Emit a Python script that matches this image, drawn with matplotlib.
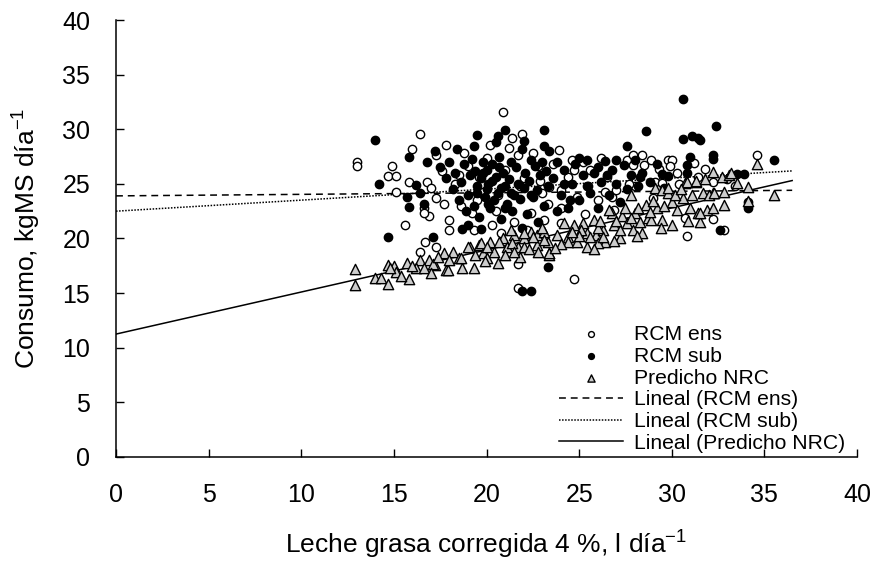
import matplotlib
matplotlib.use('Agg')
import matplotlib.pyplot as plt

# RCM ensilaje (circulos abiertos)
ens_x = [13.0, 13.0, 14.9, 14.7, 15.1, 15.1, 15.6, 15.8, 16.0, 16.4,
         16.6, 16.9, 16.7, 17.3, 16.4, 16.8, 17.0, 17.3, 17.7, 16.6,
         17.3, 17.8, 18.0, 18.0, 19.3, 18.3, 18.5, 19.0, 18.8, 19.5,
         19.2, 19.8, 20.0, 20.2, 20.3, 20.5, 20.9, 21.0, 21.2, 21.4,
         21.9, 21.7, 21.5, 21.8, 22.0, 22.2, 20.8, 21.7, 21.7, 22.4,
         22.5, 22.9, 23.0, 23.1, 23.3, 23.4, 24.0, 24.0, 24.0, 24.7,
         24.7, 24.9, 25.2, 25.6, 26.0, 26.8, 27.6, 27.9, 28.4, 28.9,
         27.9, 28.5, 29.0, 29.1, 29.5, 29.8, 30.0, 29.9, 30.7, 30.8,
         31.4, 31.2, 32.2, 32.2, 32.8, 34.6, 26.5, 27.0, 25.5, 23.6,
         19.6, 20.6, 18.6, 22.8, 26.2, 28.0, 33.0, 30.4, 17.6, 24.4,
         25.3, 26.9, 27.7, 29.3, 30.3, 31.8, 33.4, 26.4, 24.6, 23.9]
ens_y = [27.0, 26.6, 26.6, 25.7, 25.7, 24.3, 21.2, 25.2, 28.2, 29.6,
         22.8, 22.1, 19.7, 19.2, 18.8, 25.2, 24.6, 23.7, 23.2, 22.3,
         27.6, 28.6, 21.7, 20.8, 20.8, 25.0, 25.8, 26.6, 27.8, 23.5,
         22.3, 24.3, 27.4, 28.6, 21.2, 22.5, 31.6, 26.3, 28.3, 29.2,
         29.6, 27.6, 21.5, 24.8, 25.5, 20.8, 20.5, 17.7, 15.5, 22.3,
         27.8, 25.3, 24.2, 21.7, 23.2, 24.7, 24.4, 22.8, 21.4, 16.3,
         26.3, 23.8, 27.0, 26.3, 23.5, 23.8, 27.2, 27.6, 27.6, 27.2,
         26.7, 26.7, 23.7, 25.2, 25.1, 27.2, 27.2, 26.6, 21.9, 20.2,
         25.6, 26.9, 25.2, 21.8, 20.8, 27.6, 25.6, 24.4, 24.8, 26.8,
         25.6, 24.0, 23.0, 26.6, 27.4, 24.8, 25.4, 25.0, 26.2, 25.6,
         22.2, 22.6, 25.0, 26.4, 26.0, 26.4, 24.8, 24.3, 27.2, 28.1]

# RCM subproducto (circulos llenos)
sub_x = [14.0, 14.2, 14.7, 15.8, 15.7, 15.8, 16.2, 16.4, 16.6, 17.1,
         19.5, 20.6, 21.0, 23.1, 23.1, 23.3, 21.9, 22.4, 18.7, 19.7,
         28.6, 30.6, 32.4, 30.6, 31.1, 31.4, 27.6, 32.2, 32.2, 31.0,
         30.8, 30.8, 29.5, 32.6, 31.5, 35.5, 33.5, 33.9, 34.1, 34.1,
         17.5, 17.8, 18.0, 18.2, 18.3, 18.5, 18.6, 18.8, 18.9, 19.0,
         19.1, 19.2, 19.3, 19.4, 19.5, 19.6, 19.7, 19.8, 19.9, 20.0,
         20.0, 20.1, 20.2, 20.3, 20.4, 20.5, 20.6, 20.7, 20.8, 20.9,
         21.0, 21.1, 21.2, 21.3, 21.4, 21.5, 21.6, 21.7, 21.8, 21.9,
         22.0, 22.1, 22.2, 22.3, 22.4, 22.5, 22.6, 22.7, 22.8, 22.9,
         23.0, 23.1, 23.2, 23.3, 23.4, 18.4, 19.0, 21.9, 20.5, 19.3,
         22.0, 19.8, 20.3, 20.8, 21.3, 20.1, 21.0, 19.5, 22.4, 20.7,
         23.6, 23.8, 24.0, 24.2, 24.4, 24.6, 24.8, 25.0, 25.2, 25.4,
         25.6, 25.8, 26.0, 26.2, 26.4, 26.6, 26.8, 27.0, 27.2, 27.4,
         27.6, 27.8, 28.0, 28.2, 28.4, 28.8, 29.2, 29.6, 25.0, 26.0,
         24.5, 23.8, 16.8, 17.2, 24.2, 25.4, 26.5, 27.0, 28.3, 29.8]
sub_y = [29.0, 25.0, 20.1, 27.5, 23.8, 22.9, 24.9, 24.2, 23.2, 20.1,
         29.5, 29.4, 29.9, 29.9, 28.5, 17.4, 15.2, 15.2, 20.9, 20.9,
         29.8, 32.8, 30.3, 29.1, 29.4, 29.2, 28.5, 27.6, 27.3, 27.5,
         26.7, 26.0, 25.9, 20.8, 29.0, 27.2, 25.9, 25.9, 23.3, 22.8,
         26.5, 25.5, 27.0, 24.5, 26.0, 23.5, 25.2, 26.8, 22.5, 24.0,
         25.8, 27.3, 23.0, 26.2, 24.8, 22.0, 25.5, 27.0, 23.8, 26.3,
         24.5, 25.0, 22.8, 26.8, 23.5, 25.6, 24.2, 27.5, 21.8, 26.0,
         24.8, 23.2, 25.4, 27.0, 22.5, 24.0, 26.5, 25.0, 23.6, 28.2,
         24.6, 26.0, 22.2, 25.3, 27.2, 23.8, 26.6, 24.4, 21.5, 25.8,
         27.0, 23.0, 26.2, 24.8, 28.0, 28.2, 21.2, 21.0, 28.8, 28.5,
         28.9, 26.0, 25.3, 24.6, 24.2, 23.2, 22.8, 24.2, 24.0, 26.5,
         25.5, 27.0, 24.0, 26.3, 22.8, 25.0, 26.8, 23.5, 25.8, 27.2,
         24.2, 26.0, 22.8, 25.2, 27.1, 24.0, 26.3, 25.0, 23.3, 26.7,
         24.5, 25.8, 27.2, 24.8, 26.0, 25.2, 26.8, 24.6, 27.4, 26.5,
         23.5, 22.5, 27.0, 28.0, 25.0, 24.8, 25.8, 27.2, 25.6, 25.7]

# Predicho NRC (triangulos)
nrc_x = [12.9, 12.9, 14.0, 14.3, 14.7, 14.7, 15.0, 15.1, 15.8, 15.7,
         16.4, 16.2, 16.9, 17.2, 17.7, 17.8, 18.2, 18.5, 18.7, 19.1,
         19.6, 19.8, 14.8, 16.6, 17.1, 17.9, 18.6, 19.0, 19.3, 19.7,
         20.2, 20.4, 20.6, 20.9, 21.1, 21.5, 21.7, 21.8, 22.0, 22.4,
         22.7, 22.7, 23.1, 23.3, 23.4, 23.4, 23.8, 24.4, 24.4, 24.7,
         24.9, 25.2, 25.4, 25.4, 25.8, 25.9, 26.3, 26.4, 26.8, 26.9,
         27.2, 27.3, 27.6, 27.8, 27.9, 28.0, 28.3, 28.4, 28.6, 28.7,
         28.9, 29.1, 29.2, 29.5, 29.5, 29.8, 30.0, 30.0, 30.3, 30.6,
         30.7, 31.0, 31.1, 31.3, 31.4, 31.5, 31.7, 31.9, 32.2, 32.2,
         32.2, 32.7, 33.1, 33.5, 34.1, 32.0, 32.3, 32.8, 32.8, 31.5,
         34.6, 35.5, 34.1, 29.8, 30.8, 31.3, 33.2, 20.0, 20.7, 21.4,
         22.0, 22.5, 23.1, 23.4, 25.1, 25.6, 26.0, 26.3, 27.2, 21.0,
         20.0, 22.3, 24.0, 23.0, 24.2, 26.0, 26.6, 27.5, 28.2, 29.0,
         30.2, 27.0, 25.0, 19.4, 18.0, 16.0, 17.4, 21.3, 22.0, 21.5,
         22.8, 24.6, 25.8, 26.9, 27.8, 28.8, 29.6, 30.5, 31.8, 19.9,
         17.0, 15.4, 23.7, 26.1, 28.1, 29.4, 30.9]
nrc_y = [17.2, 15.7, 16.4, 16.4, 15.8, 17.6, 17.5, 16.9, 16.3, 17.8,
         18.0, 17.3, 18.0, 17.6, 18.7, 17.1, 18.8, 18.2, 17.3, 19.2,
         19.4, 18.7, 17.3, 17.3, 17.7, 17.1, 18.2, 19.2, 17.3, 19.6,
         19.7, 18.8, 17.8, 20.0, 19.2, 20.3, 19.2, 18.3, 20.0, 20.6,
         20.3, 19.4, 20.6, 19.7, 18.7, 18.5, 20.3, 20.1, 19.7, 21.2,
         19.7, 21.4, 20.5, 19.2, 21.7, 20.3, 20.8, 19.7, 22.3, 21.2,
         20.0, 22.1, 21.4, 24.0, 20.8, 22.3, 21.5, 20.5, 23.1, 21.9,
         21.7, 24.6, 22.8, 24.4, 21.7, 24.2, 23.3, 21.2, 22.6, 23.7,
         25.1, 22.8, 24.0, 25.2, 22.3, 21.5, 24.2, 22.6, 26.1, 24.2,
         22.8, 25.6, 25.8, 25.1, 24.7, 24.0, 24.2, 24.3, 23.1, 22.3,
         26.8, 24.0, 23.4, 24.6, 25.2, 25.3, 26.0, 19.2, 19.7, 19.6,
         19.2, 20.1, 19.9, 18.7, 20.8, 20.1, 19.6, 20.1, 20.8, 18.5,
         18.2, 19.0, 19.5, 21.0, 21.4, 21.0, 22.6, 22.8, 22.8, 23.4,
         24.0, 21.6, 20.2, 18.5, 18.0, 17.5, 18.3, 20.8, 20.5, 18.8,
         18.8, 20.6, 19.0, 19.8, 21.9, 22.4, 23.0, 24.5, 25.4, 17.9,
         16.8, 16.6, 19.1, 21.6, 20.2, 21.0, 21.6]

# Lineas de tendencia: intercepto y pendiente
trend_labels = ['Lineal (RCM ens)', 'Lineal (RCM sub)', 'Lineal (Predicho NRC)']
trend_intercept = [23.9, 22.5, 11.25]
trend_slope = [0.014, 0.101, 0.385]
trend_x = [0, 36.5]

plt.rcParams['font.family'] = ['Liberation Sans', 'DejaVu Sans']
plt.rcParams['mathtext.fontset'] = 'custom'
plt.rcParams['mathtext.rm'] = 'Liberation Sans'
plt.rcParams['mathtext.it'] = 'Liberation Sans:italic'

fig = plt.figure(figsize=(8.77, 5.65), dpi=100)
ax = fig.add_axes([0.1323, 0.1912, 0.8449, 0.7734])

# Tendencias detras de los puntos
styles = [(0, (4.5, 3.2)), (0, (1, 1)), '-']
line_handles = []
for lab, b, m, ls in zip(trend_labels, trend_intercept, trend_slope, styles):
    ty = [b + m * x for x in trend_x]
    ln, = ax.plot(trend_x, ty, color='black', linestyle=ls, linewidth=1.1,
                  label=lab, zorder=1)
    line_handles.append(ln)

h_ens = ax.scatter(ens_x, ens_y, s=36, facecolor='white', edgecolor='black',
                   linewidth=1.0, label='RCM ens', zorder=2)
h_sub = ax.scatter(sub_x, sub_y, s=36, facecolor='black', edgecolor='black',
                   linewidth=1.0, label='RCM sub', zorder=3)
h_nrc = ax.scatter(nrc_x, nrc_y, s=55, marker='^', facecolor='#cccccc',
                   edgecolor='black', linewidth=1.0, label='Predicho NRC', zorder=4)

ax.set_xlim(0, 40)
ax.set_ylim(0, 40)
ax.set_xticks(range(0, 41, 5))
ax.set_yticks(range(0, 41, 5))
ax.tick_params(direction='in', length=5.5, width=1, pad=18.5, labelsize=18)
for side in ['top', 'right']:
    ax.spines[side].set_visible(False)
for side in ['left', 'bottom']:
    ax.spines[side].set_linewidth(1.1)

ax.set_xlabel('Leche grasa corregida 4 %, l día$^{-1}$', fontsize=19, labelpad=16)
ax.set_ylabel('Consumo, kgMS día$^{-1}$', fontsize=19, labelpad=14)

ax.legend(handles=[h_ens, h_sub, h_nrc] + line_handles, loc='lower right',
          bbox_to_anchor=(0.99, 0.0), frameon=False, fontsize=15.2,
          labelspacing=0.13, handlelength=3.0, handletextpad=0.55,
          markerscale=0.7, borderpad=0.2, borderaxespad=0.0)

fig.savefig('out.png', dpi=100)
